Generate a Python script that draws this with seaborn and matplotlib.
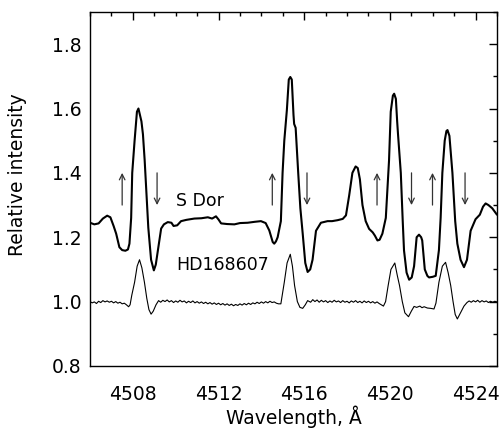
import numpy as np
import pandas as pd
import matplotlib
matplotlib.use("Agg")
import matplotlib.pyplot as plt
from matplotlib.ticker import MultipleLocator
import seaborn as sns

# ---------------- data ----------------
sdor_wl = [4506.0, 4506.2, 4506.4, 4506.6, 4506.8, 4506.95, 4507.1, 4507.22, 4507.37, 4507.5,
           4507.65, 4507.77, 4507.84, 4507.92, 4507.97, 4508.08, 4508.19, 4508.26, 4508.33, 4508.40,
           4508.47, 4508.55, 4508.62, 4508.72, 4508.85, 4508.98, 4509.07, 4509.17, 4509.32, 4509.45,
           4509.63, 4509.8, 4509.9, 4510.07, 4510.25, 4510.5, 4510.87, 4511.2, 4511.5, 4511.7,
           4511.88, 4512.0, 4512.12, 4512.4, 4512.74, 4513.0, 4513.36, 4513.7, 4513.98, 4514.2,
           4514.37, 4514.53, 4514.6, 4514.68, 4514.76, 4514.91, 4514.99, 4515.07, 4515.19, 4515.28,
           4515.35, 4515.42, 4515.5, 4515.53, 4515.6, 4515.72, 4515.82, 4515.93, 4516.05, 4516.16,
           4516.28, 4516.39, 4516.55, 4516.78, 4517.09, 4517.3, 4517.56, 4517.8, 4517.95, 4518.1,
           4518.25, 4518.4, 4518.5, 4518.6, 4518.72, 4518.87, 4519.03, 4519.2, 4519.3, 4519.42,
           4519.52, 4519.65, 4519.81, 4519.96, 4520.04, 4520.14, 4520.2, 4520.28, 4520.34, 4520.38,
           4520.51, 4520.6, 4520.66, 4520.78, 4520.9, 4521.02, 4521.13, 4521.25, 4521.36, 4521.46,
           4521.51, 4521.63, 4521.75, 4521.83, 4522.0, 4522.14, 4522.29, 4522.37, 4522.45, 4522.56,
           4522.64, 4522.69, 4522.78, 4522.92, 4523.05, 4523.15, 4523.3, 4523.46, 4523.6, 4523.77,
           4524.0, 4524.2, 4524.35, 4524.47, 4524.6, 4524.78, 4525.0]
sdor_int = [1.245, 1.240, 1.243, 1.258, 1.267, 1.262, 1.235, 1.211, 1.169, 1.160,
            1.158, 1.162, 1.180, 1.260, 1.400, 1.500, 1.590, 1.600, 1.580, 1.560,
            1.520, 1.440, 1.355, 1.230, 1.130, 1.097, 1.115, 1.159, 1.227, 1.240,
            1.247, 1.245, 1.235, 1.237, 1.250, 1.254, 1.258, 1.259, 1.262, 1.258,
            1.265, 1.255, 1.243, 1.241, 1.240, 1.244, 1.245, 1.248, 1.250, 1.244,
            1.221, 1.185, 1.180, 1.187, 1.200, 1.250, 1.400, 1.500, 1.595, 1.690,
            1.698, 1.690, 1.580, 1.552, 1.540, 1.400, 1.290, 1.211, 1.120, 1.092,
            1.100, 1.130, 1.220, 1.245, 1.250, 1.250, 1.253, 1.257, 1.268, 1.330,
            1.400, 1.420, 1.415, 1.380, 1.300, 1.250, 1.226, 1.215, 1.205, 1.190,
            1.192, 1.211, 1.260, 1.438, 1.590, 1.640, 1.646, 1.630, 1.560, 1.520,
            1.400, 1.250, 1.159, 1.090, 1.068, 1.075, 1.110, 1.200, 1.208, 1.200,
            1.190, 1.100, 1.080, 1.075, 1.077, 1.080, 1.160, 1.260, 1.400, 1.500,
            1.530, 1.533, 1.515, 1.400, 1.250, 1.180, 1.130, 1.107, 1.130, 1.220,
            1.256, 1.270, 1.295, 1.305, 1.300, 1.290, 1.270]

hd_wl = [4506.0, 4506.1, 4506.2, 4506.3, 4506.4, 4506.5, 4506.6, 4506.7, 4506.8, 4506.9,
         4507.0, 4507.1, 4507.2, 4507.3, 4507.4, 4507.5, 4507.6, 4507.7, 4507.8, 4507.87,
         4507.95, 4508.08, 4508.2, 4508.31, 4508.42, 4508.54, 4508.65, 4508.75, 4508.85, 4508.95,
         4509.08, 4509.2, 4509.3, 4509.4, 4509.5, 4509.6, 4509.7, 4509.8, 4509.9, 4510.0,
         4510.1, 4510.2, 4510.3, 4510.4, 4510.5, 4510.6, 4510.7, 4510.8, 4510.9, 4511.0,
         4511.1, 4511.2, 4511.3, 4511.4, 4511.5, 4511.6, 4511.7, 4511.8, 4511.9, 4512.0,
         4512.1, 4512.2, 4512.3, 4512.4, 4512.5, 4512.6, 4512.7, 4512.8, 4512.9, 4513.0,
         4513.1, 4513.2, 4513.3, 4513.4, 4513.5, 4513.6, 4513.7, 4513.8, 4513.9, 4514.0,
         4514.1, 4514.2, 4514.3, 4514.4, 4514.5, 4514.6, 4514.7, 4514.8, 4514.91, 4515.0,
         4515.07, 4515.2, 4515.35, 4515.45, 4515.55, 4515.68, 4515.8, 4515.93, 4516.05, 4516.16,
         4516.3, 4516.4, 4516.5, 4516.6, 4516.7, 4516.8, 4516.9, 4517.0, 4517.1, 4517.2,
         4517.3, 4517.4, 4517.5, 4517.6, 4517.7, 4517.8, 4517.9, 4518.0, 4518.1, 4518.2,
         4518.3, 4518.4, 4518.5, 4518.6, 4518.7, 4518.8, 4518.9, 4519.0, 4519.1, 4519.2,
         4519.3, 4519.4, 4519.5, 4519.6, 4519.7, 4519.8, 4519.92, 4520.05, 4520.23, 4520.35,
         4520.45, 4520.58, 4520.7, 4520.87, 4521.0, 4521.13, 4521.25, 4521.4, 4521.5, 4521.6,
         4521.75, 4521.9, 4522.06, 4522.15, 4522.29, 4522.45, 4522.6, 4522.72, 4522.84, 4522.95,
         4523.05, 4523.15, 4523.3, 4523.46, 4523.6, 4523.7, 4523.8, 4523.9, 4524.0, 4524.1,
         4524.2, 4524.3, 4524.4, 4524.5, 4524.6, 4524.7, 4524.8, 4524.9, 4525.0]
hd_int = [1.000, 0.996, 0.999, 0.994, 1.001, 0.997, 1.003, 0.999, 1.002, 0.998,
          1.001, 0.996, 1.000, 0.995, 0.998, 0.993, 0.995, 0.990, 0.984, 0.990,
          1.020, 1.060, 1.110, 1.130, 1.105, 1.060, 1.010, 0.975, 0.961, 0.970,
          0.990, 1.003, 0.998, 1.004, 1.000, 1.005, 0.999, 1.003, 0.997, 1.002,
          0.998, 1.004, 0.999, 1.002, 0.996, 1.001, 0.997, 1.002, 0.996, 1.000,
          0.995, 0.999, 0.994, 0.998, 0.993, 0.997, 0.992, 0.996, 0.991, 0.995,
          0.990, 0.994, 0.989, 0.993, 0.988, 0.992, 0.987, 0.991, 0.988, 0.993,
          0.989, 0.994, 0.990, 0.995, 0.991, 0.996, 0.993, 0.998, 0.994, 0.999,
          0.995, 1.000, 0.996, 1.001, 0.997, 0.999, 0.995, 0.993, 0.993, 1.030,
          1.060, 1.120, 1.147, 1.110, 1.050, 1.000, 0.982, 0.979, 0.990, 1.003,
          0.998, 1.006, 1.000, 1.005, 0.998, 1.004, 0.999, 1.003, 0.997, 1.002,
          0.998, 1.004, 0.999, 1.002, 0.997, 1.003, 0.998, 1.001, 0.996, 1.002,
          0.998, 1.003, 0.997, 1.001, 0.996, 1.002, 0.997, 1.001, 0.996, 1.000,
          0.995, 0.999, 0.994, 0.990, 0.986, 1.000, 1.050, 1.100, 1.120, 1.080,
          1.050, 1.000, 0.965, 0.953, 0.970, 0.985, 0.982, 0.986, 0.981, 0.984,
          0.980, 0.979, 0.977, 0.995, 1.060, 1.110, 1.122, 1.090, 1.050, 1.000,
          0.960, 0.946, 0.965, 0.986, 0.997, 1.002, 0.998, 1.003, 0.999, 1.004,
          0.998, 1.003, 0.999, 1.002, 0.997, 1.001, 0.998, 1.001, 0.999]

arrow_up_wl = [4507.50, 4514.51, 4519.40, 4521.99]
arrow_down_wl = [4509.13, 4516.13, 4521.01, 4523.51]
arrow_low, arrow_high = 1.30, 1.40

labels = ["S Dor", "HD168607"]
label_pos = [(4510.02, 1.314), (4510.02, 1.113)]

# ---------------- plot ----------------
sns.set_theme(style="white")
plt.rcParams["font.family"] = ["DejaVu Sans"]
plt.rcParams["text.color"] = "black"
plt.rcParams["axes.labelcolor"] = "black"
plt.rcParams["xtick.color"] = "black"
plt.rcParams["ytick.color"] = "black"

fig = plt.figure(figsize=(5.03, 4.28), dpi=100)
ax = fig.add_axes([0.179, 0.145, 0.809, 0.827])

df_s = pd.DataFrame({"wl": sdor_wl, "I": sdor_int})
df_h = pd.DataFrame({"wl": hd_wl, "I": hd_int})
sns.lineplot(data=df_s, x="wl", y="I", ax=ax, color="black", lw=1.5,
             sort=False, estimator=None)
sns.lineplot(data=df_h, x="wl", y="I", ax=ax, color="black", lw=0.8,
             sort=False, estimator=None)

for w in arrow_up_wl:
    ax.annotate("", xy=(w, arrow_high), xytext=(w, arrow_low),
                arrowprops=dict(arrowstyle="->", lw=0.9, color="#333333",
                                mutation_scale=10, shrinkA=0, shrinkB=0))
for w in arrow_down_wl:
    ax.annotate("", xy=(w, arrow_low), xytext=(w, arrow_high),
                arrowprops=dict(arrowstyle="->", lw=0.9, color="#333333",
                                mutation_scale=10, shrinkA=0, shrinkB=0))

for t, (x, y) in zip(labels, label_pos):
    ax.text(x, y, t, fontsize=12.5, ha="left", va="center", color="black")

ax.set_xlim(4506.0, 4525.0)
ax.set_ylim(0.8, 1.9)
ax.xaxis.set_major_locator(MultipleLocator(4))
ax.xaxis.set_minor_locator(MultipleLocator(1))
ax.yaxis.set_major_locator(MultipleLocator(0.2))
ax.yaxis.set_minor_locator(MultipleLocator(0.1))
ax.yaxis.set_major_formatter(matplotlib.ticker.FormatStrFormatter("%.1f"))
ax.tick_params(which="both", direction="in", top=True, right=True,
               color="black", labelcolor="black", width=1.0)
ax.tick_params(which="major", length=6, labelsize=13.5)
ax.tick_params(axis="x", which="major", pad=14)
ax.tick_params(axis="y", which="major", pad=6)
ax.tick_params(which="minor", length=3)
for s in ax.spines.values():
    s.set_visible(True)
    s.set_color("black")
    s.set_linewidth(1.0)

ax.set_xlabel("Wavelength, Å", fontsize=13.5, labelpad=1, color="black")
ax.set_ylabel("Relative intensity", fontsize=13.5, labelpad=8, color="black")
ax.yaxis.set_label_coords(-0.155, 0.54)

fig.savefig("out.png", dpi=100)
